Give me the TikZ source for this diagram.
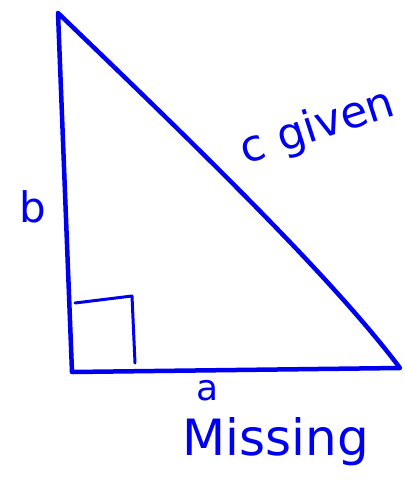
\documentclass[tikz,border=0pt]{standalone}
\usepackage{fontspec}
\setsansfont{DejaVu Sans}
\usetikzlibrary{positioning, calc}
\definecolor{penblue}{RGB}{0,0,240}
\tikzset{
  pen/.style={draw=penblue, line width=4.5pt, line cap=round, line join=round},
  thinpen/.style={draw=penblue, line width=3pt, line cap=round, line join=round},
  scrawl/.style={text=penblue, font=\sffamily, inner sep=0pt}
}
\begin{document}
\begin{tikzpicture}[x=1pt, y=-1pt]
  \useasboundingbox (0,0) rectangle (405,483);

  % Triangle corners
  \coordinate (top) at (58,13);
  \coordinate (bl) at (72,372);
  \coordinate (br) at (400,368);

  % Sides
  \draw[pen] (top) -- (bl) -- (br)
    .. controls (330,275) and (190,140) .. (top);

  % Right angle mark
  \coordinate (m1) at (75,303);
  \coordinate (m2) at (132,296);
  \coordinate (m3) at (135,363);
  \draw[thinpen] (m1) -- (m2) -- (m3);

  % Labels
  \node[scrawl, font=\sffamily\fontsize{42}{42}\selectfont] (lblb) at (33,207) {b};
  \node[scrawl, font=\sffamily\fontsize{44}{44}\selectfont, rotate=18] (lblc) at (318,128) {c given};
  \node[scrawl, font=\sffamily\fontsize{36}{36}\selectfont] (lbla) at (208,391) {a};
  \node[scrawl, font=\sffamily\fontsize{50}{50}\selectfont] (lblmiss) at (276,442) {Missing};
\end{tikzpicture}
\end{document}
